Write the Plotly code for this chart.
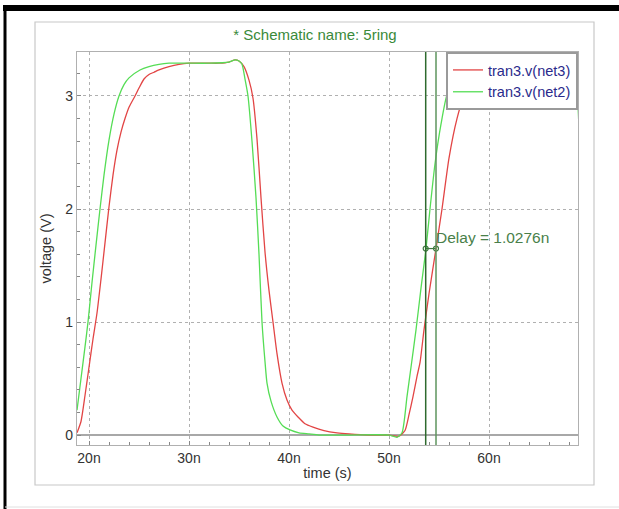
import plotly.graph_objects as go

# time in ns, voltage in V
t_net3 = [18.8, 19.2, 19.6, 20.0, 20.4, 20.8, 21.2, 21.6, 22.0, 22.4, 22.8, 23.2, 23.6, 24.0, 24.6,
          25.0, 25.5, 26.0, 26.5, 27.0, 28.0, 29.0, 30.0, 31.0, 32.0, 33.0, 34.0, 34.6, 35.0, 35.5,
          36.0, 36.4, 36.8, 37.2, 37.6, 38.0, 38.4, 38.8, 39.3, 39.8, 40.3, 40.9, 41.6, 42.4, 43.5,
          44.8, 46.0, 48.0, 50.0, 51.0, 51.6, 52.0, 52.4, 52.8, 53.1, 53.5, 54.0, 54.7, 55.3, 56.0,
          56.8, 57.5, 58.2, 59.0, 60.0, 62.0, 65.0, 69.0]
v_net3 = [0.02, 0.12, 0.35, 0.60, 0.85, 1.08, 1.38, 1.70, 2.02, 2.30, 2.52, 2.68, 2.80, 2.90, 3.00,
          3.07, 3.15, 3.19, 3.21, 3.23, 3.26, 3.28, 3.29, 3.29, 3.29, 3.29, 3.30, 3.32, 3.31, 3.26,
          3.14, 2.98, 2.62, 2.10, 1.62, 1.28, 1.00, 0.72, 0.46, 0.31, 0.22, 0.16, 0.10, 0.07, 0.04,
          0.02, 0.01, 0.00, 0.00, -0.01, 0.04, 0.18, 0.34, 0.52, 0.64, 0.93, 1.25, 1.65, 2.00, 2.45,
          2.80, 3.00, 3.12, 3.20, 3.25, 3.28, 3.29, 3.29]

t_net2 = [18.8, 19.2, 19.6, 19.9, 20.3, 20.7, 21.1, 21.5, 22.0, 22.5, 23.0, 23.5, 24.0, 25.1, 26.0,
          27.0, 28.0, 30.0, 32.0, 34.0, 34.6, 35.0, 35.3, 35.6, 35.9, 36.3, 36.7, 37.0, 37.3, 37.6,
          37.8, 38.2, 38.8, 39.4, 40.1, 41.0, 42.0, 43.0, 46.0, 50.0, 50.8, 51.3, 51.8, 52.2, 52.7,
          53.2, 53.7, 54.1, 54.6, 55.2, 55.8, 56.4, 57.1, 58.0, 59.0, 60.0, 65.0, 68.2, 68.6, 68.85,
          69.1]
v_net2 = [0.22, 0.50, 0.78, 1.00, 1.35, 1.68, 2.00, 2.30, 2.61, 2.84, 3.00, 3.10, 3.16, 3.23, 3.26,
          3.28, 3.29, 3.29, 3.29, 3.30, 3.32, 3.31, 3.28, 3.15, 3.00, 2.60, 2.10, 1.60, 1.00, 0.65,
          0.46, 0.30, 0.16, 0.08, 0.045, 0.02, 0.01, 0.00, 0.00, 0.00, -0.02, 0.02, 0.34, 0.60, 0.93,
          1.30, 1.65, 2.00, 2.40, 2.75, 3.01, 3.10, 3.14, 3.22, 3.27, 3.29, 3.30, 3.30, 3.25, 3.00,
          2.50]

cursor_t = [53.67, 54.70]
delay_v = [1.65, 1.65]
delay_label = "Delay = 1.0276n"

x_ticks = [20, 30, 40, 50, 60]
y_ticks = [0, 1, 2, 3]

RED = "#e24545"
GREEN = "#55dd55"
DKGREEN = "#3f7a3f"

fig = go.Figure()
fig.add_trace(go.Scatter(x=t_net3, y=v_net3, mode="lines", name="tran3.v(net3)",
                         line=dict(color=RED, width=1.3, shape="spline", smoothing=0.6)))
fig.add_trace(go.Scatter(x=t_net2, y=v_net2, mode="lines", name="tran3.v(net2)",
                         line=dict(color=GREEN, width=1.3, shape="spline", smoothing=0.6)))
fig.add_trace(go.Scatter(x=cursor_t, y=delay_v, mode="lines+markers", showlegend=False,
                         line=dict(color=DKGREEN, width=1.2),
                         marker=dict(symbol="circle-open", size=5, color=DKGREEN, line=dict(width=1.2))))

# cursor lines
fig.add_shape(type="line", xref="x", yref="paper", x0=cursor_t[0], x1=cursor_t[0], y0=0, y1=1,
              line=dict(color="#2e6a2e", width=1.5))
fig.add_shape(type="line", xref="x", yref="paper", x0=cursor_t[1], x1=cursor_t[1], y0=0, y1=1,
              line=dict(color="#5e945e", width=1.5))

fig.add_annotation(x=cursor_t[1], y=delay_v[0] + 0.1, xref="x", yref="y", text=delay_label,
                   showarrow=False, xanchor="left", yanchor="middle", xshift=-2,
                   font=dict(color="#4a7f4a", size=15.5, family="Liberation Sans"))

# decorative frames (paper coords relative to plot area)
def px(x):
    return (x - 77) / 501.0

def py(y):
    return (445 - y) / 393.0

fig.add_shape(type="rect", xref="paper", yref="paper", x0=px(35), x1=px(594), y0=py(485), y1=py(22),
              line=dict(color="#c8c8c8", width=1.2), layer="below")
fig.add_shape(type="rect", xref="paper", yref="paper", x0=px(3), x1=px(619), y0=py(11), y1=py(5),
              line=dict(width=0), fillcolor="black")
fig.add_shape(type="rect", xref="paper", yref="paper", x0=px(3.5), x1=px(6.5), y0=py(509), y1=py(5),
              line=dict(width=0), fillcolor="black")
fig.add_shape(type="line", xref="paper", yref="paper", x0=px(5), x1=px(619), y0=py(507), y1=py(507),
              line=dict(color="#e0e0e0", width=1))

fig.update_layout(
    width=619, height=509,
    margin=dict(l=77, r=41, t=52, b=64),
    paper_bgcolor="white", plot_bgcolor="white",
    font=dict(family="Liberation Sans", color="#333333", size=14),
    title=dict(text="* Schematic name: 5ring", x=315 / 619, xref="container", xanchor="center",
               y=(509 - 35) / 509, yref="container", yanchor="middle",
               font=dict(color="#3a8a3a", size=15, family="Liberation Sans")),
    showlegend=True,
    legend=dict(x=1, y=1, xanchor="right", yanchor="top", bgcolor="white",
                bordercolor="#9a9a9a", borderwidth=2, itemwidth=30,
                font=dict(color="#2a2a8c", size=14.5, family="Liberation Sans"),
                tracegroupgap=0),
    xaxis=dict(range=[18.8, 68.9], tickvals=x_ticks, ticktext=[f"{v}n" for v in x_ticks],
               showgrid=True, gridcolor="#b0b0b0", griddash="dot", gridwidth=1,
               ticks="inside", ticklen=4, tickcolor="#888888",
               minor=dict(dtick=2, tick0=0, ticks="inside", ticklen=3, tickcolor="#888888", showgrid=False),
               showline=True, linecolor="#b0b0b0", linewidth=1.2, mirror=True, zeroline=False,
               title=dict(text="time (s)", standoff=2, font=dict(size=14.5, color="#333333"))),
    yaxis=dict(range=[-0.088, 3.389], tickvals=y_ticks,
               showgrid=True, gridcolor="#b0b0b0", griddash="dot", gridwidth=1,
               ticks="inside", ticklen=4, tickcolor="#888888",
               minor=dict(dtick=0.2, tick0=0, ticks="inside", ticklen=3, tickcolor="#888888", showgrid=False),
               showline=True, linecolor="#b0b0b0", linewidth=1.2, mirror=True,
               zeroline=True, zerolinecolor="#a8a8a8", zerolinewidth=1.5,
               title=dict(text="voltage (V)", standoff=10, font=dict(size=14.5, color="#333333"))),
)

fig.write_html("out.html", config={"displayModeBar": False},
               post_script="document.body.style.margin='0';document.body.style.overflow='hidden';")
